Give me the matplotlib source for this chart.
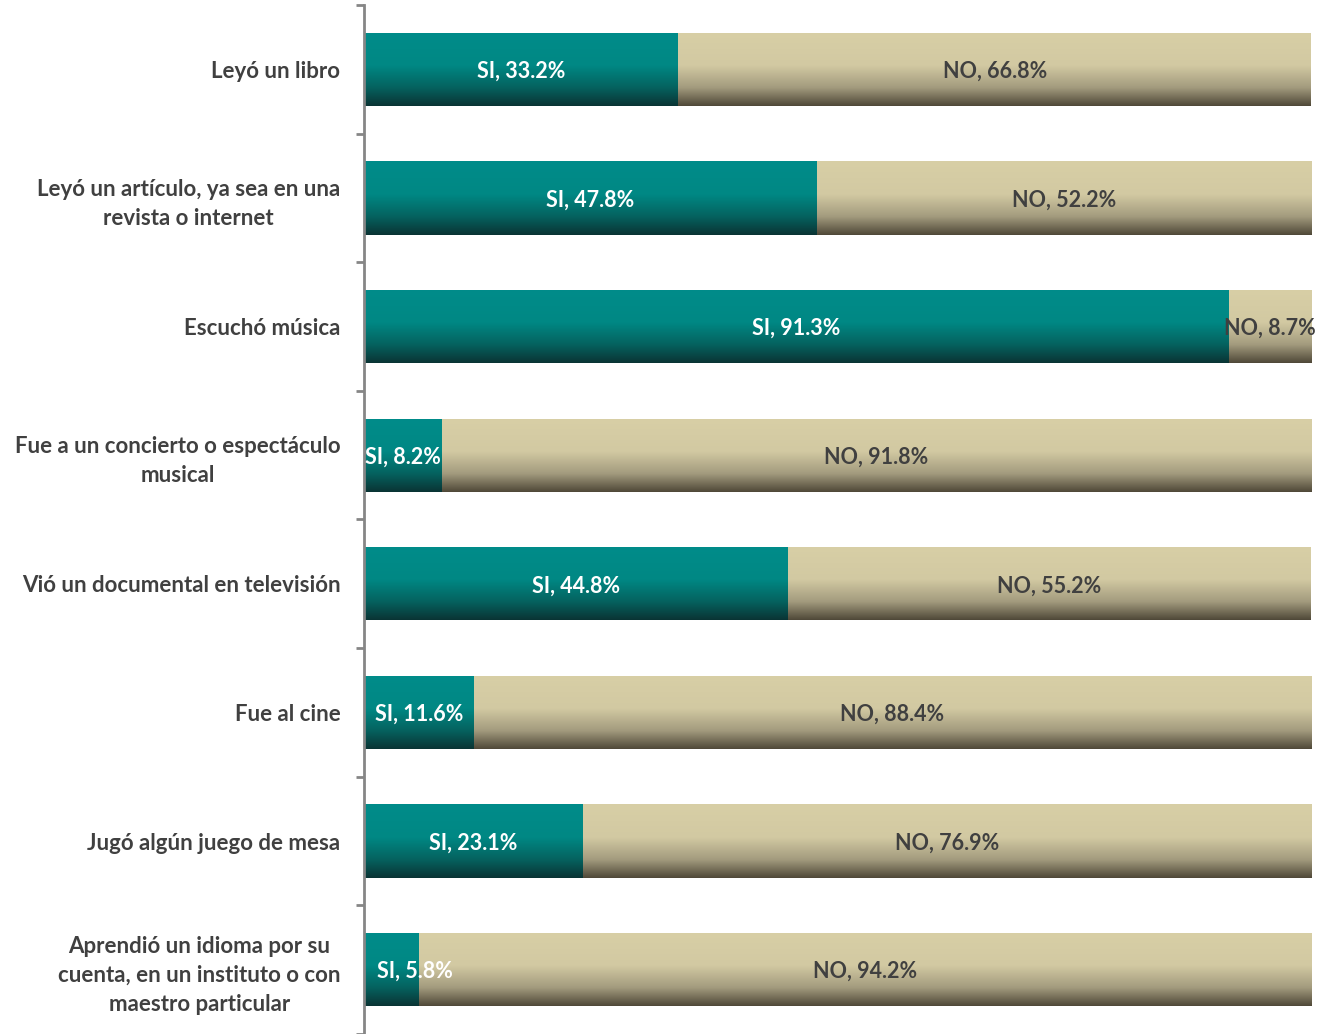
import numpy as np
import matplotlib.pyplot as plt
from matplotlib.colors import LinearSegmentedColormap

# Datos
categorias = [
    "Leyó un libro",
    "Leyó un artículo, ya sea en una\nrevista o internet",
    "Escuchó música",
    "Fue a un concierto o espectáculo\nmusical",
    "Vió un documental en televisión",
    "Fue al cine",
    "Jugó algún juego de mesa",
    "Aprendió un idioma por su\ncuenta, en un instituto o con\nmaestro particular",
]
si = [33.2, 47.8, 91.3, 8.2, 44.8, 11.6, 23.1, 5.8]
no = [66.8, 52.2, 8.7, 91.8, 55.2, 88.4, 76.9, 94.2]

FONT = "Lato"
GRIS = "#404040"

# degradados verticales (arriba -> abajo)
cmap_si = LinearSegmentedColormap.from_list(
    "si", [(0, "#008C8A"), (0.45, "#008884"), (0.75, "#05625F"), (1, "#0A3434")])
cmap_no = LinearSegmentedColormap.from_list(
    "no", [(0, "#D8CFA6"), (0.45, "#D2C9A2"), (0.75, "#A39B7E"), (1, "#4F4838")])

fig = plt.figure(figsize=(13.17, 10.34), dpi=100)
ax = fig.add_axes([0.2764, 0.0, 0.719, 0.9952])

y = np.arange(len(categorias))
h = 0.57
bars_si = ax.barh(y, si, height=h, color="none", edgecolor="none")
bars_no = ax.barh(y, no, left=si, height=h, color="none", edgecolor="none")

grad = np.linspace(0, 1, 256).reshape(-1, 1)


def pintar(bars, cmap):
    for b in bars:
        x0, y0 = b.get_x(), b.get_y()
        w, hh = b.get_width(), b.get_height()
        im = ax.imshow(grad, cmap=cmap, aspect="auto",
                       extent=(x0, x0 + w, y0 + hh, y0), origin="upper",
                       interpolation="bilinear", zorder=2)
        im.set_clip_path(b)


pintar(bars_si, cmap_si)
pintar(bars_no, cmap_no)

for i in range(len(categorias)):
    # si la etiqueta no cabe, Excel la corre hacia la derecha
    x_si = si[i] / 2 if si[i] > 7 else si[i] - 0.4
    ax.text(x_si, y[i], f"SI, {si[i]}%", ha="center", va="center_baseline",
            color="white", fontsize=15.5, fontweight="bold", family=FONT, zorder=5)
    ax.text(si[i] + no[i] / 2, y[i], f"NO, {no[i]}%", ha="center",
            va="center_baseline", color=GRIS, fontsize=15.5, fontweight="bold",
            family=FONT, zorder=5)

ax.set_xlim(0, 100)
ax.set_ylim(len(categorias) - 0.5, -0.5)

ax.set_yticks(y)
ax.set_yticklabels(categorias, fontsize=16, fontweight="bold", family=FONT,
                   color=GRIS, linespacing=1.45, multialignment="center",
                   va="center_baseline")
ax.tick_params(axis="y", length=0, pad=17)
ax.set_yticks(np.arange(-0.5, len(categorias) + 0.5, 1), minor=True)
ax.tick_params(axis="y", which="minor", length=6, width=2, color="#868686",
               direction="out")
ax.set_xticks([])

for s in ["top", "right", "bottom"]:
    ax.spines[s].set_visible(False)
ax.spines["left"].set_color("#868686")
ax.spines["left"].set_linewidth(2)

fig.savefig("out.png", dpi=100)
